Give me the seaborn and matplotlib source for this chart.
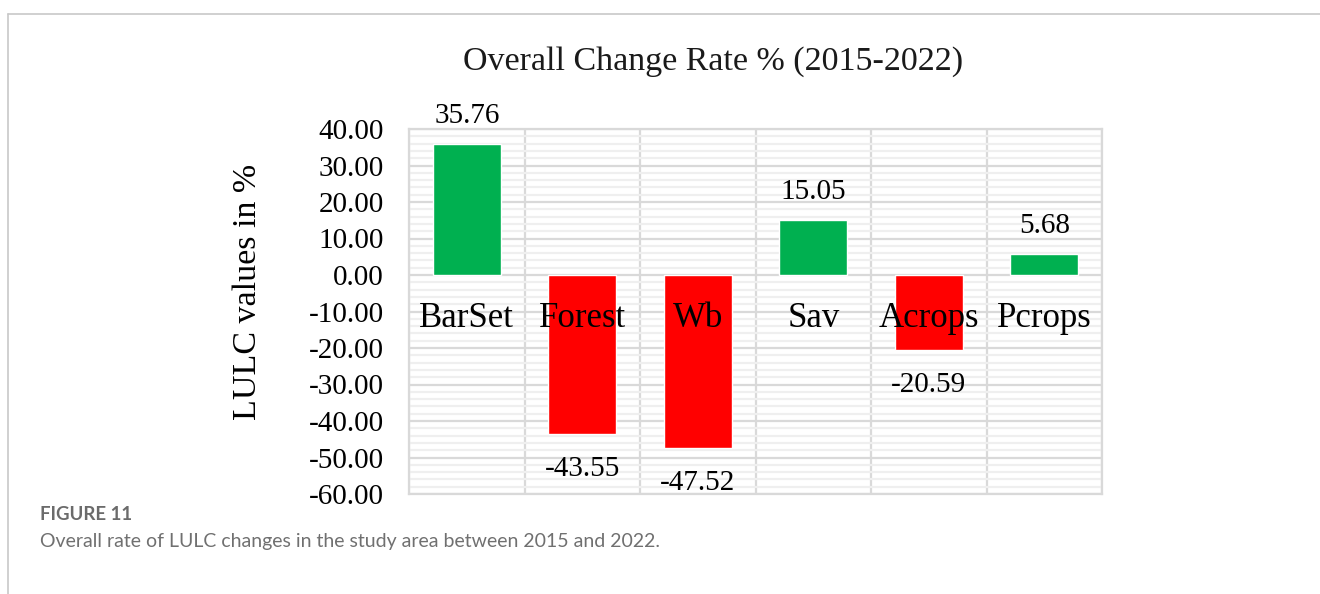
import matplotlib
matplotlib.use("Agg")
import matplotlib.pyplot as plt
from matplotlib.lines import Line2D
from matplotlib.ticker import MultipleLocator, FuncFormatter
import numpy as np
import pandas as pd
import seaborn as sns

# Land-use / land-cover classes and their overall change rate (%), 2015-2022
categories = ["BarSet", "Forest", "Wb", "Sav", "Acrops", "Pcrops"]
change_rate = [35.76, -43.55, -47.52, 15.05, -20.59, 5.68]
y_ticks = [40, 30, 20, 10, 0, -10, -20, -30, -40, -50, -60]

title_text = "Overall Change Rate % (2015-2022)"
ylabel_text = "LULC values in %"
caption_head = "FIGURE 11"
caption_body = "Overall rate of LULC changes in the study area between 2015 and 2022."

GREEN = "#00B050"
RED = "#FF0000"
GRID = "#d9d9d9"
GRID_MINOR = "#efefef"

df = pd.DataFrame({"cls": categories, "rate": change_rate})
df["sign"] = np.where(df["rate"] >= 0, "gain", "loss")

sns.set_theme(style="white")
plt.rcParams["font.family"] = ["Liberation Serif", "DejaVu Serif"]

W, H = 1320, 594
fig = plt.figure(figsize=(W / 100, H / 100), dpi=100)
fig.patch.set_facecolor("white")

# plot area in pixel coordinates
x0, x1, ytop, ybot = 409, 1102, 129, 494
ax = fig.add_axes([x0 / W, 1 - ybot / H, (x1 - x0) / W, (ybot - ytop) / H])
ax.set_facecolor("white")

sns.barplot(data=df, x="cls", y="rate", hue="sign", order=categories,
            palette={"gain": GREEN, "loss": RED}, width=0.59, dodge=False,
            legend=False, saturation=1, ax=ax, zorder=3)

ax.set_ylim(min(y_ticks), max(y_ticks))
ax.set_xlim(-0.5, len(categories) - 0.5)
ax.set_yticks(y_ticks)
ax.yaxis.set_major_formatter(FuncFormatter(lambda v, p: f"{v:.2f}"))
ax.yaxis.set_minor_locator(MultipleLocator(2))
ax.set_xticks(np.arange(-0.5, len(categories), 1.0))
ax.set_xticklabels([])
ax.tick_params(axis="both", which="both", length=0)
ax.tick_params(axis="y", labelsize=21, pad=18, colors="black")
ax.set_xlabel("")
ax.set_ylabel("")

ax.grid(axis="y", which="minor", color=GRID_MINOR, linewidth=1.6, zorder=0)
ax.grid(axis="y", which="major", color=GRID, linewidth=1.6, zorder=1)
ax.grid(axis="x", which="major", color=GRID, linewidth=1.6, zorder=1)
ax.set_axisbelow(True)
for s in ax.spines.values():
    s.set_color(GRID)
    s.set_linewidth(1.6)

# category names sit inside the plot, over the bars
for i, name in enumerate(categories):
    ax.text(i, -12.0, name, ha="center", va="center", fontsize=25,
            color="black", zorder=5)

# value labels outside the bar ends
for i, v in enumerate(change_rate):
    if v >= 0:
        ax.annotate(f"{v:.2f}", (i, v), xytext=(0, 20.5), textcoords="offset points",
                    ha="center", va="center", fontsize=21, color="black",
                    annotation_clip=False, zorder=5)
    else:
        ax.annotate(f"{v:.2f}", (i, v), xytext=(0, -25), textcoords="offset points",
                    ha="center", va="center", fontsize=21, color="black",
                    annotation_clip=False, zorder=5)

fig.text(713 / W, 1 - 62 / H, title_text, ha="center", va="center", fontsize=24.5,
         color="#1a1a1a")
fig.text(248 / W, 1 - 292 / H, ylabel_text, ha="center", va="center", rotation=90,
         fontsize=24.5, color="black")

# page frame (top and left edges)
fig.add_artist(Line2D([8 / W, 1.0], [1 - 14 / H, 1 - 14 / H], transform=fig.transFigure,
                      color="#c8c8c8", linewidth=1.2))
fig.add_artist(Line2D([8 / W, 8 / W], [0.0, 1 - 14 / H], transform=fig.transFigure,
                      color="#c8c8c8", linewidth=1.2))

fig.text(40 / W, 1 - 514 / H, caption_head, ha="left", va="center", fontsize=13.4,
         fontweight="bold", color="#6b6b6b", family=["Lato", "DejaVu Sans"])
fig.text(40 / W, 1 - 541 / H, caption_body, ha="left", va="center", fontsize=14,
         color="#707070", family=["Lato", "DejaVu Sans"])

fig.savefig("out.png", dpi=100, facecolor="white")
